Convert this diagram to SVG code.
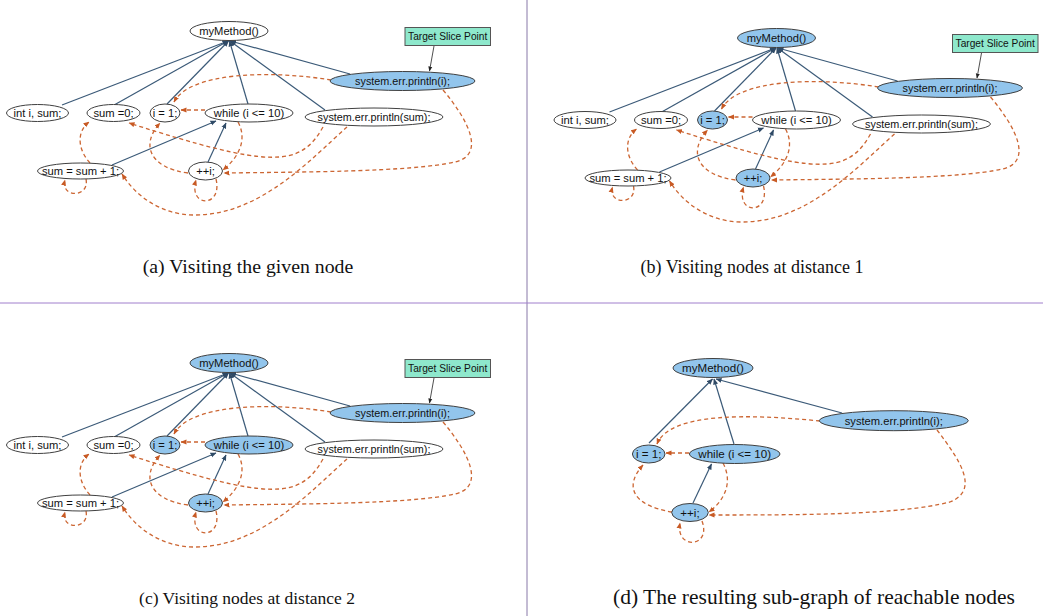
<svg xmlns="http://www.w3.org/2000/svg" width="1043" height="616" viewBox="0 0 1043 616">
<style>
.bg{fill:#fff}
.nd ellipse{fill:#fff;stroke:#404040;stroke-width:1}
.nd ellipse.hl{fill:#92c5ec}
.nd text{font-family:"Liberation Sans",Arial,sans-serif;font-size:11.2px;fill:#111;text-anchor:middle}
.tg rect{fill:#8ee8cc;stroke:#555;stroke-width:1}
.tg text{font-family:"Liberation Sans",Arial,sans-serif;font-size:10.2px;fill:#111;text-anchor:middle}
.cs{fill:none;stroke:#3b5a78;stroke-width:1.2;marker-end:url(#mB)}
.cd{fill:none;stroke:#cc6633;stroke-width:1.3;stroke-dasharray:4 3;marker-end:url(#mO)}
.ct{fill:none;stroke:#222;stroke-width:0.8;marker-end:url(#mK)}
.cap{font-family:"Liberation Serif","Times New Roman",serif;font-size:19px;fill:#111;text-anchor:middle}
</style>
<defs>
<marker id="mB" markerWidth="6" markerHeight="6" refX="5.5" refY="3" orient="auto" markerUnits="userSpaceOnUse"><path d="M0,0.5 L6,3 L0,5.5 z" fill="#2f4a66"/></marker>
<marker id="mO" markerWidth="6" markerHeight="6" refX="5.5" refY="3" orient="auto" markerUnits="userSpaceOnUse"><path d="M0,0.5 L6,3 L0,5.5 z" fill="#c85a24"/></marker>
<marker id="mK" markerWidth="5" markerHeight="5" refX="4.5" refY="2.5" orient="auto" markerUnits="userSpaceOnUse"><path d="M0,0.5 L5,2.5 L0,4.5 z" fill="#222"/></marker>
</defs>
<rect class="bg" x="0" y="0" width="1043" height="616"/>

<g id="dividers">
<line x1="527" y1="0" x2="527" y2="616" stroke="#8878a8" stroke-width="1"/>
<line x1="0" y1="303" x2="1043" y2="303" stroke="#a07fcc" stroke-width="1"/>
</g>

<!-- Panel A -->
<g id="panel-a">
<g id="a-connectors">
<path class="cs" d="M62 105 L228 41"/>
<path class="cs" d="M115 104.5 L228 41"/>
<path class="cs" d="M167 104 L228.5 41"/>
<path class="cs" d="M248 104 L229.5 41"/>
<path class="cs" d="M325 110 L230 41"/>
<path class="cs" d="M350 74 L230.5 41"/>
<path class="cs" d="M112 165 L216 121"/>
<path class="cs" d="M208 162 L226 123"/>
<path class="ct" d="M434 46 L429.5 71"/>
<path class="cd" d="M331 80 C 270 70, 190 72, 174 102"/>
<path class="cd" d="M205 110 L181 110"/>
<path class="cd" d="M188 173 C 150 168, 140 145, 160 123"/>
<path class="cd" d="M238 122 C 248 140, 238 158, 223 170"/>
<path class="cd" d="M323 127 C 300 168, 270 168, 129 123"/>
<path class="cd" d="M347 127 C 310 160, 260 215, 195 215 C 160 215, 135 195, 122 174"/>
<path class="cd" d="M443 90 C 470 122, 485 155, 455 162 C 410 172, 300 172, 224 173"/>
<path class="cd" d="M90 163 C 78 150, 76 132, 89 122"/>
<path class="cd" d="M86 179 C 90 198, 60 198, 65 180"/>
<path class="cd" d="M216 179 C 223 208, 188 208, 196 180"/>
</g>
<g id="a-mymethod" class="nd"><ellipse cx="229" cy="31" rx="39" ry="9.5"/><text x="229" y="35">myMethod()</text></g>
<g id="a-intsum" class="nd"><ellipse cx="37.5" cy="113" rx="31" ry="8.5"/><text x="37.5" y="117">int i, sum;</text></g>
<g id="a-sum0" class="nd"><ellipse cx="113.5" cy="113" rx="26.5" ry="8.5"/><text x="113.5" y="117">sum =0;</text></g>
<g id="a-i1" class="nd"><ellipse cx="165" cy="113" rx="15" ry="9"/><text x="165" y="117">i = 1;</text></g>
<g id="a-while" class="nd"><ellipse cx="249" cy="113" rx="44" ry="9"/><text x="249" y="117">while (i &lt;= 10)</text></g>
<g id="a-printsum" class="nd"><ellipse cx="374" cy="117" rx="69" ry="9"/><text x="374" y="121" style="font-size:10.8px">system.err.println(sum);</text></g>
<g id="a-printi" class="nd"><ellipse class="hl" cx="402.5" cy="81" rx="72.5" ry="9.5"/><text x="402.5" y="85" style="font-size:10.8px">system.err.println(i);</text></g>
<g id="a-sumsum" class="nd"><ellipse cx="80.5" cy="171" rx="43" ry="8"/><text x="80.5" y="175">sum = sum + 1;</text></g>
<g id="a-inc" class="nd"><ellipse cx="205.5" cy="171" rx="17" ry="9"/><text x="205.5" y="175">++i;</text></g>
<g id="a-target" class="tg"><rect x="405" y="27.5" width="85.5" height="18"/><text x="447.7" y="40">Target Slice Point</text></g>
<text class="cap" x="248" y="273" style="font-size:19.8px">(a) Visiting the given node</text>
</g>

<!-- Panel B -->
<g id="panel-b" transform="translate(547.5 7)">
<g id="b-connectors">
<path class="cs" d="M62 105 L228 41"/>
<path class="cs" d="M115 104.5 L228 41"/>
<path class="cs" d="M167 104 L228.5 41"/>
<path class="cs" d="M248 104 L229.5 41"/>
<path class="cs" d="M325 110 L230 41"/>
<path class="cs" d="M350 74 L230.5 41"/>
<path class="cs" d="M112 165 L216 121"/>
<path class="cs" d="M208 162 L226 123"/>
<path class="ct" d="M434 46 L429.5 71"/>
<path class="cd" d="M331 80 C 270 70, 190 72, 174 102"/>
<path class="cd" d="M205 110 L181 110"/>
<path class="cd" d="M188 173 C 150 168, 140 145, 160 123"/>
<path class="cd" d="M238 122 C 248 140, 238 158, 223 170"/>
<path class="cd" d="M323 127 C 300 168, 270 168, 129 123"/>
<path class="cd" d="M347 127 C 310 160, 260 215, 195 215 C 160 215, 135 195, 122 174"/>
<path class="cd" d="M443 90 C 470 122, 485 155, 455 162 C 410 172, 300 172, 224 173"/>
<path class="cd" d="M90 163 C 78 150, 76 132, 89 122"/>
<path class="cd" d="M86 179 C 90 198, 60 198, 65 180"/>
<path class="cd" d="M216 179 C 223 208, 188 208, 196 180"/>
</g>
<g id="b-mymethod" class="nd"><ellipse class="hl" cx="229" cy="31" rx="39" ry="9.5"/><text x="229" y="35">myMethod()</text></g>
<g id="b-intsum" class="nd"><ellipse cx="37.5" cy="113" rx="31" ry="8.5"/><text x="37.5" y="117">int i, sum;</text></g>
<g id="b-sum0" class="nd"><ellipse cx="113.5" cy="113" rx="26.5" ry="8.5"/><text x="113.5" y="117">sum =0;</text></g>
<g id="b-i1" class="nd"><ellipse class="hl" cx="165" cy="113" rx="15" ry="9"/><text x="165" y="117">i = 1;</text></g>
<g id="b-while" class="nd"><ellipse cx="249" cy="113" rx="44" ry="9"/><text x="249" y="117">while (i &lt;= 10)</text></g>
<g id="b-printsum" class="nd"><ellipse cx="374" cy="117" rx="69" ry="9"/><text x="374" y="121" style="font-size:10.8px">system.err.println(sum);</text></g>
<g id="b-printi" class="nd"><ellipse class="hl" cx="402.5" cy="81" rx="72.5" ry="9.5"/><text x="402.5" y="85" style="font-size:10.8px">system.err.println(i);</text></g>
<g id="b-sumsum" class="nd"><ellipse cx="80.5" cy="171" rx="43" ry="8"/><text x="80.5" y="175">sum = sum + 1;</text></g>
<g id="b-inc" class="nd"><ellipse class="hl" cx="205.5" cy="171" rx="17" ry="9"/><text x="205.5" y="175">++i;</text></g>
<g id="b-target" class="tg"><rect x="405" y="27.5" width="85.5" height="18"/><text x="447.7" y="40">Target Slice Point</text></g>
</g>
<text class="cap" x="752" y="273" style="font-size:18px">(b) Visiting nodes at distance 1</text>

<!-- Panel C -->
<g id="panel-c" transform="translate(0 332)">
<g id="c-connectors">
<path class="cs" d="M62 105 L228 41"/>
<path class="cs" d="M115 104.5 L228 41"/>
<path class="cs" d="M167 104 L228.5 41"/>
<path class="cs" d="M248 104 L229.5 41"/>
<path class="cs" d="M325 110 L230 41"/>
<path class="cs" d="M350 74 L230.5 41"/>
<path class="cs" d="M112 165 L216 121"/>
<path class="cs" d="M208 162 L226 123"/>
<path class="ct" d="M434 46 L429.5 71"/>
<path class="cd" d="M331 80 C 270 70, 190 72, 174 102"/>
<path class="cd" d="M205 110 L181 110"/>
<path class="cd" d="M188 173 C 150 168, 140 145, 160 123"/>
<path class="cd" d="M238 122 C 248 140, 238 158, 223 170"/>
<path class="cd" d="M323 127 C 300 168, 270 168, 129 123"/>
<path class="cd" d="M347 127 C 310 160, 260 215, 195 215 C 160 215, 135 195, 122 174"/>
<path class="cd" d="M443 90 C 470 122, 485 155, 455 162 C 410 172, 300 172, 224 173"/>
<path class="cd" d="M90 163 C 78 150, 76 132, 89 122"/>
<path class="cd" d="M86 179 C 90 198, 60 198, 65 180"/>
<path class="cd" d="M216 179 C 223 208, 188 208, 196 180"/>
</g>
<g id="c-mymethod" class="nd"><ellipse class="hl" cx="229" cy="31" rx="39" ry="9.5"/><text x="229" y="35">myMethod()</text></g>
<g id="c-intsum" class="nd"><ellipse cx="37.5" cy="113" rx="31" ry="8.5"/><text x="37.5" y="117">int i, sum;</text></g>
<g id="c-sum0" class="nd"><ellipse cx="113.5" cy="113" rx="26.5" ry="8.5"/><text x="113.5" y="117">sum =0;</text></g>
<g id="c-i1" class="nd"><ellipse class="hl" cx="165" cy="113" rx="15" ry="9"/><text x="165" y="117">i = 1;</text></g>
<g id="c-while" class="nd"><ellipse class="hl" cx="249" cy="113" rx="44" ry="9"/><text x="249" y="117">while (i &lt;= 10)</text></g>
<g id="c-printsum" class="nd"><ellipse cx="374" cy="117" rx="69" ry="9"/><text x="374" y="121" style="font-size:10.8px">system.err.println(sum);</text></g>
<g id="c-printi" class="nd"><ellipse class="hl" cx="402.5" cy="81" rx="72.5" ry="9.5"/><text x="402.5" y="85" style="font-size:10.8px">system.err.println(i);</text></g>
<g id="c-sumsum" class="nd"><ellipse cx="80.5" cy="171" rx="43" ry="8"/><text x="80.5" y="175">sum = sum + 1;</text></g>
<g id="c-inc" class="nd"><ellipse class="hl" cx="205.5" cy="171" rx="17" ry="9"/><text x="205.5" y="175">++i;</text></g>
<g id="c-target" class="tg"><rect x="405" y="27.5" width="85.5" height="18"/><text x="447.7" y="40">Target Slice Point</text></g>
</g>
<text class="cap" x="247" y="604" style="font-size:17.5px">(c) Visiting nodes at distance 2</text>

<!-- Panel D -->
<g id="panel-d">
<g id="d-connectors">
<path class="cs" d="M649 443 L712.5 379"/>
<path class="cs" d="M734 444 L714 379"/>
<path class="cs" d="M842 413 L716 379"/>
<path class="cs" d="M693 503 L711.5 464"/>
<path class="cd" d="M820 421 C 750 414, 670 412, 657 444"/>
<path class="cd" d="M689 453 L666 453"/>
<path class="cd" d="M672 512 C 630 505, 625 485, 643 465"/>
<path class="cd" d="M723 463 C 733 482, 725 500, 709 512"/>
<path class="cd" d="M937 430 C 960 460, 980 490, 950 502 C 900 515, 800 515, 709 515"/>
<path class="cd" d="M702 521 C 712 548, 675 550, 680 523"/>
</g>
<g id="d-mymethod" class="nd"><ellipse class="hl" cx="713" cy="368" rx="40" ry="9.5"/><text x="713" y="372" style="font-size:11.6px">myMethod()</text></g>
<g id="d-i1" class="nd"><ellipse class="hl" cx="648.7" cy="454" rx="16.3" ry="9"/><text x="648.7" y="458" style="font-size:11.6px">i = 1;</text></g>
<g id="d-while" class="nd"><ellipse class="hl" cx="734.7" cy="454" rx="45.3" ry="9.5"/><text x="734.7" y="458" style="font-size:11.6px">while (i &lt;= 10)</text></g>
<g id="d-inc" class="nd"><ellipse class="hl" cx="690" cy="512.5" rx="18.3" ry="9"/><text x="690" y="516.5" style="font-size:11.6px">++i;</text></g>
<g id="d-printi" class="nd"><ellipse class="hl" cx="893.8" cy="420.7" rx="74.5" ry="10"/><text x="893.8" y="424.7" style="font-size:11.2px">system.err.println(i);</text></g>
</g>
<text class="cap" x="814" y="604" style="font-size:21.5px">(d) The resulting sub-graph of reachable nodes</text>
</svg>
